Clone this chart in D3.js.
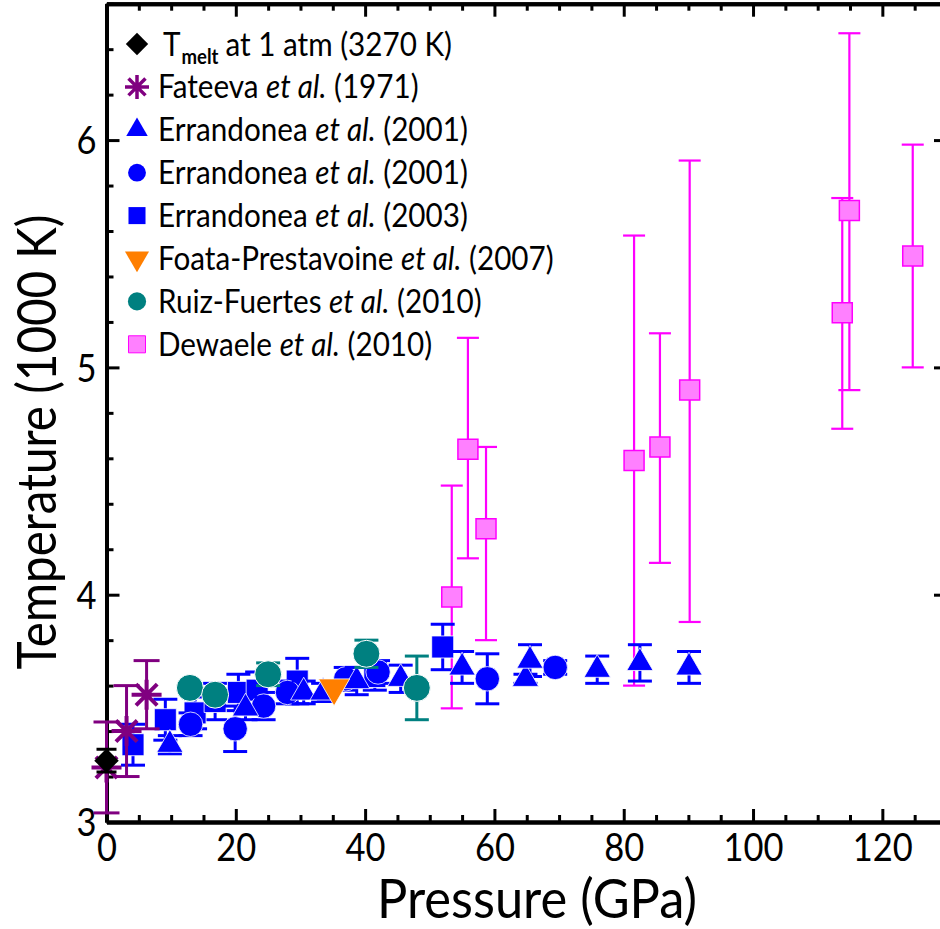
<!DOCTYPE html>
<html><head><meta charset="utf-8">
<script src="https://cdn.jsdelivr.net/npm/d3@7"></script>
<style>body{margin:0;background:#fff} svg{display:block} text{font-family:Lato,"Open Sans",sans-serif;fill:#000}</style>
</head><body><svg id="c" width="940" height="929"></svg>
<script>
// ---------- data ----------
const xMajorTicks = [0, 20, 40, 60, 80, 100, 120];
const yMajorTicks = [3, 4, 5, 6];

const tmeltP = [0], tmeltT = [3.27], tmeltErr = [0.05];

const fateevaP = [0, 3.1, 6.2];
const fateevaT = [3.24, 3.40, 3.56];
const fateevaErr = [0.20, 0.20, 0.15];

const err01TriP = [9.8, 21.5, 30.5, 33.5, 38.7, 45.5, 55.0, 64.8, 65.5, 75.9, 82.5, 90.1];
const err01TriT = [3.34, 3.50, 3.57, 3.57, 3.62, 3.63, 3.68, 3.63, 3.71, 3.67, 3.70, 3.68];
const err01TriErr = [0.04, 0.05, 0.05, 0.04, 0.06, 0.06, 0.07, 0.02, 0.07, 0.06, 0.08, 0.07];

const err01CirP = [13.0, 19.9, 24.3, 28.0, 37.0, 42.0, 58.9, 69.4];
const err01CirT = [3.43, 3.41, 3.51, 3.57, 3.63, 3.66, 3.63, 3.68];
const err01CirErr = [0.05, 0.10, 0.06, 0.05, 0.05, 0.05, 0.11, 0.03];

const err03P = [4.1, 9.1, 13.7, 16.8, 20.4, 23.3, 29.5, 41.5, 52.0];
const err03T = [3.34, 3.45, 3.48, 3.53, 3.57, 3.58, 3.62, 3.64, 3.77];
const err03Err = [0.09, 0.09, 0.07, 0.08, 0.08, 0.08, 0.10, 0.06, 0.10];

const foataP = [35.2], foataT = [3.59];

const ruizP = [12.9, 16.8, 25.0, 40.2, 48.0];
const ruizT = [3.59, 3.56, 3.65, 3.74, 3.59];
const ruizErr = [0.0, 0.0, 0.05, 0.06, 0.14];

const dewaeleP = [53.4, 55.9, 58.7, 81.6, 85.6, 90.2, 113.8, 114.9, 124.7];
const dewaeleT = [3.99, 4.64, 4.29, 4.59, 4.65, 4.90, 5.24, 5.69, 5.49];
const dewaeleLo = [3.50, 4.16, 3.80, 3.60, 4.14, 3.88, 4.73, 4.90, 5.00];
const dewaeleHi = [4.48, 5.13, 4.65, 5.58, 5.15, 5.91, 5.745, 6.47, 5.98];

const legendLabels = [
  ["T", "melt", "at 1 atm (3270 K)"],
  ["Fateeva ", "et al.", " (1971)"],
  ["Errandonea ", "et al.", " (2001)"],
  ["Errandonea ", "et al.", " (2001)"],
  ["Errandonea ", "et al.", " (2003)"],
  ["Foata-Prestavoine ", "et al.", " (2007)"],
  ["Ruiz-Fuertes ", "et al.", " (2010)"],
  ["Dewaele ", "et al.", " (2010)"]
];

// ---------- scales ----------
const svg = d3.select("#c");
const x = d3.scaleLinear().domain([0, 130]).range([106.5, 947]);
const y = d3.scaleLinear().domain([3, 6.6]).range([822, 3.7]);

const BLUE = "#0000ff", PURPLE = "#800080", TEAL = "#008080", ORANGE = "#ff7f00", PINK = "#ff80ff", MAG = "#ff00ff";

const zip = (P, T, f) => P.map((p, i) => f(p, T[i], i));

// ---------- helpers ----------
function errBars(g, pts, color, w, cap) {
  pts.forEach(d => {
    if (d.lo === d.hi) return;
    g.append("line").attr("x1", x(d.p)).attr("x2", x(d.p)).attr("y1", y(d.lo)).attr("y2", y(d.hi))
      .attr("stroke", color).attr("stroke-width", w);
    [d.lo, d.hi].forEach(v => g.append("line").attr("x1", x(d.p) - cap / 2).attr("x2", x(d.p) + cap / 2)
      .attr("y1", y(v)).attr("y2", y(v)).attr("stroke", color).attr("stroke-width", w));
  });
}
function marks(g, pts, type, size, fill, stroke, sw, rot) {
  g.selectAll(null).data(pts).enter().append("path")
    .attr("d", d3.symbol().type(type).size(size))
    .attr("transform", d => `translate(${x(d.p)},${y(d.t)}) rotate(${rot || 0})`)
    .attr("fill", fill).attr("stroke", stroke || "none").attr("stroke-width", sw || 0);
}
function asteriskPath(r) {
  let s = "";
  for (let k = 0; k < 4; k++) {
    const a = k * Math.PI / 4;
    s += `M${-r * Math.sin(a)},${-r * Math.cos(a)}L${r * Math.sin(a)},${r * Math.cos(a)}`;
  }
  return s;
}

// ---------- axes ----------
const axG = svg.append("g");
function styleAxis(sel) {
  sel.select(".domain").attr("stroke", "#000").attr("stroke-width", 4);
  sel.selectAll(".tick line").attr("stroke", "#000").attr("stroke-width", 3);
}
const xMinor = d3.range(0, 131, 5).filter(v => !xMajorTicks.includes(v));
const yMinor = d3.range(3, 6.61, 0.2).map(v => +v.toFixed(1)).filter(v => !yMajorTicks.includes(v));

axG.append("g").attr("transform", `translate(0,${y(3)})`)
  .call(d3.axisBottom(x).tickValues(xMinor).tickSize(-7).tickSizeOuter(0).tickFormat(""))
  .call(styleAxis);
const xb = axG.append("g").attr("transform", `translate(0,${y(3)})`)
  .call(d3.axisBottom(x).tickValues(xMajorTicks).tickSize(-13).tickSizeOuter(0).tickPadding(12))
  .call(styleAxis);
axG.append("g").attr("transform", `translate(0,${y(6.6)})`)
  .call(d3.axisTop(x).tickValues(xMinor).tickSize(-7).tickSizeOuter(0).tickFormat("")).call(styleAxis);
axG.append("g").attr("transform", `translate(0,${y(6.6)})`)
  .call(d3.axisTop(x).tickValues(xMajorTicks).tickSize(-13).tickSizeOuter(0).tickFormat("")).call(styleAxis);
axG.append("g").attr("transform", `translate(${x(0)},0)`)
  .call(d3.axisLeft(y).tickValues(yMinor).tickSize(-7).tickSizeOuter(0).tickFormat("")).call(styleAxis);
const yl = axG.append("g").attr("transform", `translate(${x(0)},0)`)
  .call(d3.axisLeft(y).tickValues(yMajorTicks).tickSize(-13).tickSizeOuter(0).tickPadding(10).tickFormat(d3.format("d")))
  .call(styleAxis);
axG.append("g").attr("transform", `translate(${x(130)},0)`)
  .call(d3.axisRight(y).tickValues(yMinor).tickSize(-7).tickSizeOuter(0).tickFormat("")).call(styleAxis);
axG.append("g").attr("transform", `translate(${x(130)},0)`)
  .call(d3.axisRight(y).tickValues(yMajorTicks).tickSize(-13).tickSizeOuter(0).tickFormat("")).call(styleAxis);

[xb, yl].forEach(g => g.selectAll(".tick text").attr("font-size", 38).attr("font-family", "Lato, 'Open Sans', sans-serif").attr("fill", "#000"));
xb.selectAll(".tick text").each(function () {
  const n = this.textContent.length;
  d3.select(this).attr("textLength", n * 20).attr("lengthAdjust", "spacingAndGlyphs").attr("dy", "0.71em");
});
yl.selectAll(".tick text").attr("textLength", 20).attr("lengthAdjust", "spacingAndGlyphs").attr("dy", "0.36em");

// axis titles
svg.append("text").attr("x", 537).attr("y", 918).attr("text-anchor", "middle")
  .attr("font-size", 54).attr("textLength", 320).attr("lengthAdjust", "spacingAndGlyphs").text("Pressure (GPa)");
svg.append("text").attr("transform", `translate(56,442) rotate(-90)`).attr("text-anchor", "middle")
  .attr("font-size", 55).attr("textLength", 455).attr("lengthAdjust", "spacingAndGlyphs").text("Temperature (1000 K)");

// ---------- data layers ----------
const plot = svg.append("g");

const dew = dewaeleP.map((p, i) => ({ p, t: dewaeleT[i], lo: dewaeleLo[i], hi: dewaeleHi[i] }));
errBars(plot.append("g"), dew, MAG, 2.2, 22);
marks(plot.append("g"), dew, d3.symbolSquare, 400, PINK, MAG, 1.5);

const e03 = zip(err03P, err03T, (p, t, i) => ({ p, t, lo: t - err03Err[i], hi: t + err03Err[i] }));
errBars(plot.append("g"), e03, BLUE, 3, 24);
marks(plot.append("g"), e03, d3.symbolSquare, 484, BLUE, "#fff", 0.8);

const e01c = zip(err01CirP, err01CirT, (p, t, i) => ({ p, t, lo: t - err01CirErr[i], hi: t + err01CirErr[i] }));
errBars(plot.append("g"), e01c, BLUE, 3, 24);
marks(plot.append("g"), e01c, d3.symbolCircle, 470, BLUE, "#fff", 0.8);

const e01t = zip(err01TriP, err01TriT, (p, t, i) => ({ p, t, lo: t - err01TriErr[i], hi: t + err01TriErr[i] }));
errBars(plot.append("g"), e01t, BLUE, 3, 24);
marks(plot.append("g"), e01t, d3.symbolTriangle, 300, BLUE, "#fff", 0.8);

const ruiz = zip(ruizP, ruizT, (p, t, i) => ({ p, t, lo: t - ruizErr[i], hi: t + ruizErr[i] }));
errBars(plot.append("g"), ruiz, TEAL, 3, 24);
marks(plot.append("g"), ruiz, d3.symbolCircle, 570, TEAL, "#fff", 1);

const foata = zip(foataP, foataT, (p, t) => ({ p, t }));
marks(plot.append("g"), foata, d3.symbolTriangle, 420, ORANGE, "#fff", 0.8, 180);

const fat = zip(fateevaP, fateevaT, (p, t, i) => ({ p, t, lo: t - fateevaErr[i], hi: t + fateevaErr[i] }));
errBars(plot.append("g"), fat, PURPLE, 3, 26);
plot.append("g").selectAll(null).data(fat).enter().append("path")
  .attr("d", asteriskPath(15)).attr("transform", d => `translate(${x(d.p)},${y(d.t)})`)
  .attr("stroke", PURPLE).attr("stroke-width", 4).attr("fill", "none");

const tm = zip(tmeltP, tmeltT, (p, t, i) => ({ p, t, lo: t - tmeltErr[i], hi: t + tmeltErr[i] }));
errBars(plot.append("g"), tm, "#000", 3, 20);
marks(plot.append("g"), tm, d3.symbolSquare, 300, "#000", null, 0, 45);

// ---------- legend ----------
const lg = svg.append("g");
const rowY = i => 44 + i * 42.9;
const legendMarks = [
  g => g.append("path").attr("d", d3.symbol().type(d3.symbolSquare).size(250)).attr("transform", "rotate(45)").attr("fill", "#000"),
  g => g.append("path").attr("d", asteriskPath(12)).attr("stroke", PURPLE).attr("stroke-width", 3.5),
  g => g.append("path").attr("d", d3.symbol().type(d3.symbolTriangle).size(200)).attr("fill", BLUE),
  g => g.append("path").attr("d", d3.symbol().type(d3.symbolCircle).size(250)).attr("fill", BLUE),
  g => g.append("path").attr("d", d3.symbol().type(d3.symbolSquare).size(290)).attr("fill", BLUE),
  g => g.append("path").attr("d", d3.symbol().type(d3.symbolTriangle).size(250)).attr("transform", "rotate(180)").attr("fill", ORANGE),
  g => g.append("path").attr("d", d3.symbol().type(d3.symbolCircle).size(260)).attr("fill", TEAL),
  g => g.append("path").attr("d", d3.symbol().type(d3.symbolSquare).size(290)).attr("fill", PINK).attr("stroke", MAG).attr("stroke-width", 1)
];
const txts = [];
legendLabels.forEach((lab, i) => {
  const gm = lg.append("g").attr("transform", `translate(137,${rowY(i)})`);
  legendMarks[i](gm);
  if (i === 0) return;
  const tx = lg.append("text").attr("font-size", 32).attr("dy", "0.36em");
  tx.append("tspan").text(lab[0]);
  tx.append("tspan").attr("font-style", "italic").text(lab[1]);
  tx.append("tspan").text(lab[2]);
  txts.push({ tx, x0: 158, y0: rowY(i) });
});
const refW = txts[1].tx.node().getComputedTextLength();
const sx = 310 / refW;
txts.forEach(o => o.tx.attr("transform", `translate(${o.x0},${o.y0}) scale(${sx},1)`));

// first legend row: T with bold subscript "melt" as separate texts
const t0 = lg.append("text").attr("font-size", 32).attr("dy", "0.36em").text(legendLabels[0][0])
  .attr("transform", `translate(163,${rowY(0)}) scale(${sx},1)`);
const tW = t0.node().getComputedTextLength() * sx;
const sub = lg.append("text").attr("font-size", 20).attr("font-weight", "bold").attr("dy", "0.36em")
  .text(legendLabels[0][1]).attr("transform", `translate(${163 + tW + 1},${rowY(0) + 13}) scale(${sx},1)`);
const subW = sub.node().getComputedTextLength() * sx;
lg.append("text").attr("font-size", 32).attr("dy", "0.36em").text(legendLabels[0][2])
  .attr("transform", `translate(${163 + tW + subW + 8},${rowY(0)}) scale(${sx},1)`);
</script></body></html>
